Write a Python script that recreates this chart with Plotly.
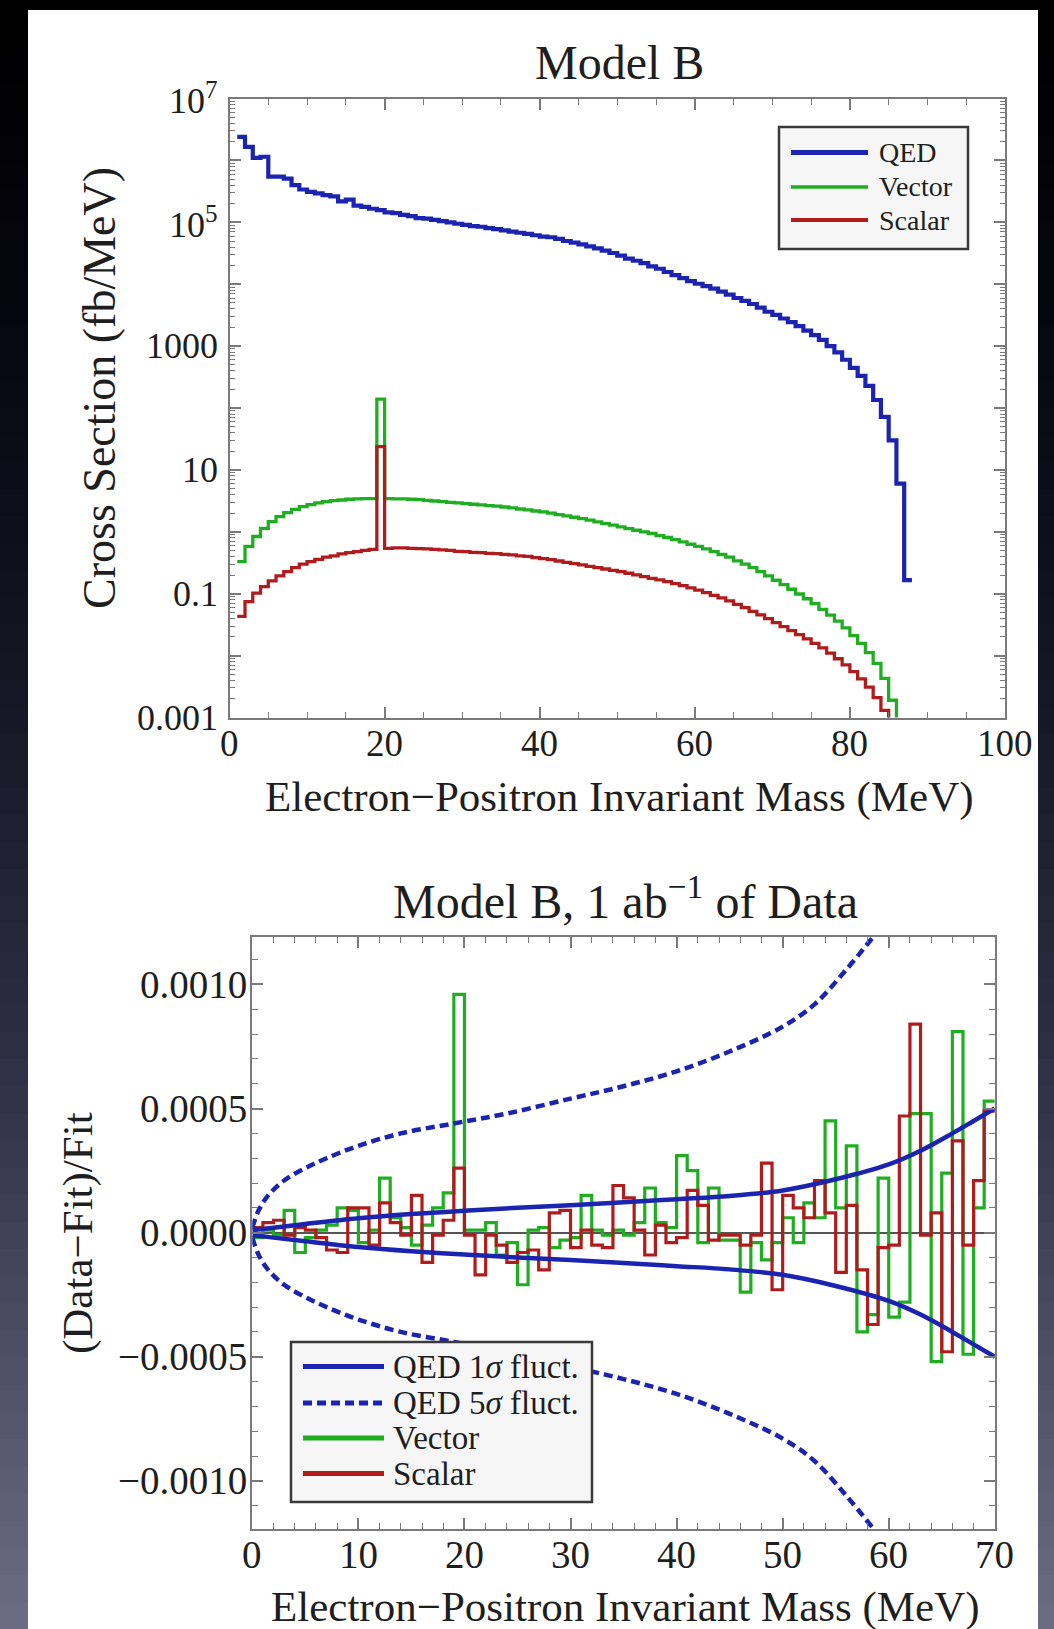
import math
import plotly.graph_objects as go

W, H = 1054, 1629

# ---------------- data ----------------
# Top panel: cross section (fb/MeV), 1 MeV bins, first bin starts at 1 MeV
top_first_edge = 1
qed_xsec = [2.4e6, 1.66e6, 1.10e6, 1.15e6, 5.5e5, 5.5e5, 5.1e5, 4.0e5, 3.4e5, 3.1e5,
            2.95e5, 2.75e5, 2.63e5, 2.19e5, 2.34e5, 1.86e5, 1.78e5, 1.66e5, 1.58e5, 1.45e5,
            1.41e5, 1.32e5, 1.26e5, 1.17e5, 1.15e5, 1.10e5, 1.05e5, 1.00e5, 9.5e4, 9.1e4,
            8.7e4, 8.5e4, 8.1e4, 7.8e4, 7.4e4, 7.1e4, 6.8e4, 6.5e4, 6.2e4, 5.9e4,
            5.75e4, 5.4e4, 5.0e4, 4.7e4, 4.4e4, 4.1e4, 3.8e4, 3.5e4, 3.2e4, 2.9e4,
            2.6e4, 2.4e4, 2.2e4, 1.95e4, 1.78e4, 1.58e4, 1.41e4, 1.26e4, 1.12e4, 1.02e4,
            9.3e3, 8.5e3, 7.6e3, 6.8e3, 6.0e3, 5.4e3, 4.8e3, 4.2e3, 3.6e3, 3.2e3,
            2.8e3, 2.45e3, 2.1e3, 1.78e3, 1.51e3, 1.26e3, 1.0e3, 794, 603, 447,
            331, 229, 135, 72, 30, 6.0, 0.166]
vector_xsec = [0.33, 0.58, 0.84, 1.14, 1.46, 1.76, 2.04, 2.31, 2.55, 2.75,
               2.93, 3.08, 3.19, 3.27, 3.36, 3.40, 3.44, 3.44, 139.0, 3.44,
               3.40, 3.40, 3.36, 3.31, 3.23, 3.15, 3.08, 3.00, 2.93, 2.86,
               2.79, 2.72, 2.65, 2.60, 2.52, 2.43, 2.34, 2.26, 2.17, 2.10,
               2.00, 1.90, 1.81, 1.72, 1.64, 1.54, 1.45, 1.36, 1.28, 1.20,
               1.13, 1.06, 1.00, 0.94, 0.87, 0.81, 0.75, 0.69, 0.63, 0.58,
               0.53, 0.48, 0.43, 0.39, 0.34, 0.30, 0.264, 0.228, 0.194, 0.165,
               0.140, 0.118, 0.099, 0.083, 0.069, 0.056, 0.045, 0.036, 0.028, 0.021,
               0.0158, 0.0112, 0.0075, 0.0043, 0.0019, 0.0006]
scalar_xsec = [0.043, 0.0745, 0.102, 0.130, 0.161, 0.194, 0.228, 0.264, 0.30, 0.33,
               0.36, 0.39, 0.41, 0.44, 0.46, 0.48, 0.50, 0.52, 23.8, 0.54,
               0.55, 0.55, 0.54, 0.535, 0.53, 0.52, 0.51, 0.50, 0.485, 0.48,
               0.467, 0.46, 0.45, 0.445, 0.433, 0.423, 0.41, 0.40, 0.383, 0.369,
               0.356, 0.338, 0.322, 0.306, 0.292, 0.277, 0.264, 0.251, 0.239, 0.228,
               0.214, 0.201, 0.189, 0.177, 0.167, 0.157, 0.146, 0.135, 0.124, 0.114,
               0.104, 0.094, 0.0855, 0.0764, 0.0675, 0.0597, 0.052, 0.0454, 0.0396, 0.0341,
               0.0294, 0.0253, 0.0218, 0.0186, 0.0158, 0.0133, 0.011, 0.0089, 0.0071, 0.0055,
               0.0042, 0.0031, 0.0021, 0.0013, 0.0006]

top_x_ticks = [0, 20, 40, 60, 80, 100]
top_y_decades = [1e-3, 1e-2, 1e-1, 1e0, 1e1, 1e2, 1e3, 1e4, 1e5, 1e6, 1e7]
top_y_label_vals = [1e-3, 1e-1, 1e1, 1e3, 1e5, 1e7]
top_y_labels = ["0.001", "0.1", "10", "1000", "10<sup>5</sup>", "10<sup>7</sup>"]

# Bottom panel: (Data-Fit)/Fit, 1 MeV bins from 0 to 70 MeV
res_first_edge = 0
vector_res = [-0.00002, 0.00001, -0.00001, 0.00009, -0.00008, -0.00002, 0.00001, 0.00003, 0.00010, 0.00009,
              -0.00004, 0.00001, 0.00022, 0.00006, 0.00002, -0.00005, 0.00003, 0.00010, 0.00016, 0.00096,
              0.00001, 0.00001, 0.00004, -0.00009, -0.00004, -0.00021, 0.00001, 0.00002, -0.00006, -0.00003,
              -0.00002, 0.00015, 0.00001, -0.00001, 0.00001, -0.00001, 0.00004, 0.00018, 0.00004, 0.00002,
              0.00031, 0.00025, -0.00004, 0.00018, -0.00003, -0.00003, -0.00024, -0.00004, -0.00011, -0.00004,
              0.00006, -0.00004, 0.00012, 0.00006, 0.00045, 0.00010, 0.00035, -0.00040, -0.00033, 0.00022,
              -0.00034, -0.00028, 0.00048, 0.00048, -0.00052, 0.00024, 0.00081, -0.00049, 0.00010, 0.00053]
scalar_res = [0.00002, 0.00004, 0.00005, -0.00001, 0.00002, 0.00001, -0.00002, -0.00007, -0.00008, 0.00010,
              0.00010, -0.00005, 0.00012, 0.00004, -0.00001, 0.00015, -0.00012, -0.00001, 0.00005, 0.00026,
              -0.00001, -0.00017, -0.00001, -0.00005, -0.00012, -0.00008, -0.00007, -0.00015, 0.00008, 0.00009,
              -0.00006, 0.00001, -0.00005, -0.00006, 0.00019, 0.00014, 0.00001, -0.00009, 0.00003, -0.00004,
              -0.00002, 0.00017, 0.00011, -0.00003, -0.00001, -0.00001, -0.00005, -0.00001, 0.00028, -0.00023,
              0.00015, 0.00010, 0.00006, 0.00021, 0.00008, -0.00016, 0.00011, -0.00015, -0.00037, -0.00006,
              -0.00005, 0.00047, 0.00084, -0.00001, 0.00008, -0.00048, 0.00037, -0.00005, 0.00021, 0.00049]

sigma1_mass = [0, 2, 5, 10, 15, 20, 25, 30, 35, 40, 45, 50, 55, 60, 63, 66, 68, 70]
sigma1_upper = [0.00001, 0.00002, 0.000035, 0.000058, 0.000075, 0.000088, 0.000100, 0.000110, 0.000122,
                0.000135, 0.000148, 0.000170, 0.000215, 0.000275, 0.00033, 0.00040, 0.00045, 0.00050]
sigma1_lower = [-0.00001, -0.00002, -0.000035, -0.000058, -0.000075, -0.000088, -0.000100, -0.000110, -0.000122,
                -0.000135, -0.000148, -0.000170, -0.000215, -0.000275, -0.00033, -0.00040, -0.00045, -0.00050]
sigma5_mass = [0, 0.6, 1.5, 3, 5, 7, 10, 14, 19, 24, 30, 35, 40, 45, 50, 53, 56, 58.5]
sigma5_upper = [0.00002, 0.00009, 0.00015, 0.00021, 0.00026, 0.00030, 0.00035, 0.00040, 0.00044,
                0.00048, 0.00054, 0.00059, 0.00065, 0.00073, 0.00083, 0.00092, 0.00106, 0.00119]
sigma5_lower = [-0.00002, -0.00009, -0.00015, -0.00021, -0.00026, -0.00030, -0.00035, -0.00040, -0.00044,
                -0.00048, -0.00054, -0.00059, -0.00065, -0.00073, -0.00083, -0.00092, -0.00106, -0.00119]

bot_x_ticks = [0, 10, 20, 30, 40, 50, 60, 70]
bot_y_ticks = [-0.001, -0.0005, 0.0, 0.0005, 0.001]
bot_y_labels = ["\u22120.0010", "\u22120.0005", "0.0000", "0.0005", "0.0010"]

# ---------------- styling ----------------
BLUE = "#1a24b0"
GREEN = "#1fae22"
RED = "#b01c1c"
FRAME = "#7a7a7a"
TXT = "#1e1e1e"
FONT = "Liberation Serif"


def fx(px):
    return px / W


def fy(py):
    return 1 - py / H


def steps(first_edge, vals):
    x = [first_edge + i for i in range(len(vals) + 1)]
    y = list(vals) + [vals[-1]]
    return x, y


fig = go.Figure()

# top panel traces
for vals, col, wid in [(qed_xsec, BLUE, 4.2), (vector_xsec, GREEN, 3.3), (scalar_xsec, RED, 3.3)]:
    x, y = steps(top_first_edge, vals)
    fig.add_trace(go.Scatter(x=x, y=y, mode="lines", line=dict(color=col, width=wid, shape="hv"),
                             xaxis="x", yaxis="y", showlegend=False, hoverinfo="skip"))

# bottom panel traces
for vals, col in [(vector_res, GREEN), (scalar_res, RED)]:
    x, y = steps(res_first_edge, vals)
    fig.add_trace(go.Scatter(x=x, y=y, mode="lines", line=dict(color=col, width=3.2, shape="hv"),
                             xaxis="x2", yaxis="y2", showlegend=False, hoverinfo="skip"))
for ys in (sigma1_upper, sigma1_lower):
    fig.add_trace(go.Scatter(x=sigma1_mass, y=ys, mode="lines",
                             line=dict(color=BLUE, width=4.5, shape="spline"),
                             xaxis="x2", yaxis="y2", showlegend=False, hoverinfo="skip"))
for ys in (sigma5_upper, sigma5_lower):
    fig.add_trace(go.Scatter(x=sigma5_mass, y=ys, mode="lines",
                             line=dict(color=BLUE, width=4.5, shape="spline", dash="9px,5px"),
                             xaxis="x2", yaxis="y2", showlegend=False, hoverinfo="skip"))

# minor ticks for log axis
log_minor = []
for k in range(-3, 7):
    for m in range(2, 10):
        log_minor.append(m * 10 ** k)

axis_common = dict(showline=True, linecolor=FRAME, linewidth=2, mirror="allticks",
                   ticks="inside", tickcolor=FRAME, tickwidth=1.5, ticklen=11,
                   showgrid=False, zeroline=False, showticklabels=False, automargin=False)

# top panel box (pixels)
T_L, T_R, T_T, T_B = 229.5, 1005, 98.6, 717.5
# bottom panel box (pixels)
B_L, B_R, B_T, B_B = 252.3, 994.8, 936.7, 1528.6

fig.update_layout(
    width=W, height=H, margin=dict(l=0, r=0, t=0, b=0, pad=0, autoexpand=False),
    paper_bgcolor="#000000", plot_bgcolor="white", showlegend=False,
    font=dict(family=FONT, color=TXT),
    xaxis=dict(domain=[fx(T_L), fx(T_R)], range=[0, 100], anchor="y",
               tickmode="array", tickvals=top_x_ticks,
               minor=dict(dtick=5, ticks="inside", ticklen=6, tickcolor=FRAME, tickwidth=1.2),
               **axis_common),
    yaxis=dict(domain=[fy(T_B), fy(T_T)], type="log", range=[-3, 7], anchor="x",
               tickmode="array", tickvals=top_y_decades,
               minor=dict(tickmode="array", tickvals=log_minor, ticks="inside", ticklen=5,
                          tickcolor=FRAME, tickwidth=1.2),
               **axis_common),
    xaxis2=dict(domain=[fx(B_L), fx(B_R)], range=[0, 70], anchor="y2",
                tickmode="array", tickvals=bot_x_ticks,
                minor=dict(dtick=2, ticks="inside", ticklen=6, tickcolor=FRAME, tickwidth=1.2),
                **axis_common),
    yaxis2=dict(domain=[fy(B_B), fy(B_T)], range=[-0.0011925, 0.0011925], anchor="x2",
                tickmode="array", tickvals=bot_y_ticks,
                minor=dict(dtick=0.0001, ticks="inside", ticklen=6, tickcolor=FRAME, tickwidth=1.2),
                **axis_common),
)
fig.layout.yaxis2.zeroline = True
fig.layout.yaxis2.zerolinecolor = "#555555"
fig.layout.yaxis2.zerolinewidth = 1.5

shapes = []
# background gradient
stops = [(0, (0, 0, 0)), (300, (6, 6, 14)), (700, (22, 22, 38)), (1100, (50, 50, 72)), (1629, (108, 108, 134))]
nb = 60
for i in range(nb):
    y0 = H * i / nb
    y1 = H * (i + 1) / nb
    yc = (y0 + y1) / 2
    for j in range(len(stops) - 1):
        if stops[j][0] <= yc <= stops[j + 1][0]:
            t = (yc - stops[j][0]) / (stops[j + 1][0] - stops[j][0])
            c = [round(stops[j][1][k] + t * (stops[j + 1][1][k] - stops[j][1][k])) for k in range(3)]
            break
    shapes.append(dict(type="rect", xref="paper", yref="paper", x0=0, x1=1, y0=fy(y1) - 0.001, y1=fy(y0),
                       fillcolor=f"rgb({c[0]},{c[1]},{c[2]})", line=dict(width=0), layer="below"))
# white panel
shapes.append(dict(type="rect", xref="paper", yref="paper", x0=fx(28), x1=fx(1038), y0=0, y1=fy(10),
                   fillcolor="#ffffff", line=dict(width=0), layer="below"))

annotations = []

# tick labels
for v in top_x_ticks:
    annotations.append(dict(text=str(v), xref="x", yref="paper", x=v, y=fy(743.5), xanchor="center",
                            yanchor="middle", showarrow=False, font=dict(size=37, family=FONT, color=TXT)))
for v, lab in zip(top_y_label_vals, top_y_labels):
    annotations.append(dict(text=lab, xref="paper", yref="y", x=fx(220), y=math.log10(v), xanchor="right",
                            yanchor="middle", showarrow=False, font=dict(size=36, family=FONT, color=TXT)))
for v in bot_x_ticks:
    annotations.append(dict(text=str(v), xref="x2", yref="paper", x=v, y=fy(1554.5), xanchor="center",
                            yanchor="middle", showarrow=False, font=dict(size=39, family=FONT, color=TXT)))
for v, lab in zip(bot_y_ticks, bot_y_labels):
    annotations.append(dict(text=lab, xref="paper", yref="y2", x=fx(249), y=v, xanchor="right",
                            yanchor="middle", showarrow=False, font=dict(size=39, family=FONT, color=TXT)))

# top legend
shapes.append(dict(type="rect", xref="paper", yref="paper", x0=fx(779), x1=fx(968), y0=fy(249), y1=fy(127),
                   fillcolor="#f6f6f6", line=dict(color="#3a3a3a", width=2.5)))
top_leg = [("QED", BLUE, 5, 152.6), ("Vector", GREEN, 3.5, 186.9), ("Scalar", RED, 4, 220.1)]
for name, col, wid, yy in top_leg:
    shapes.append(dict(type="line", xref="paper", yref="paper", x0=fx(791), x1=fx(868), y0=fy(yy), y1=fy(yy),
                       line=dict(color=col, width=wid)))
    annotations.append(dict(text=name, xref="paper", yref="paper", x=fx(877), y=fy(yy), xanchor="left",
                            yanchor="middle", showarrow=False, font=dict(size=28, family=FONT, color=TXT)))

# bottom legend
shapes.append(dict(type="rect", xref="paper", yref="paper", x0=fx(291), x1=fx(592), y0=fy(1502), y1=fy(1342),
                   fillcolor="#f6f6f6", line=dict(color="#3a3a3a", width=2.5)))
bot_leg = [("QED 1<i>\u03c3</i> fluct.", BLUE, None, 1366.5), ("QED 5<i>\u03c3</i> fluct.", BLUE, "9px,5px", 1403),
           ("Vector", GREEN, None, 1438), ("Scalar", RED, None, 1473.5)]
for name, col, dash, yy in bot_leg:
    ln = dict(color=col, width=5)
    if dash:
        ln["dash"] = dash
    shapes.append(dict(type="line", xref="paper", yref="paper", x0=fx(303), x1=fx(384), y0=fy(yy), y1=fy(yy),
                       line=ln))
    annotations.append(dict(text=name, xref="paper", yref="paper", x=fx(391), y=fy(yy), xanchor="left",
                            yanchor="middle", showarrow=False, font=dict(size=33, family=FONT, color=TXT)))

# titles and axis labels
texts = [
    ("Model B", 619, 62, 48, 0),
    ("Electron\u2212Positron Invariant Mass (MeV)", 619, 797, 43, 0),
    ("Cross Section (fb/MeV)", 99, 388, 46, -90),
    ("Model B, 1 ab<sup>\u22121</sup> of Data", 625, 898, 48, 0),
    ("Electron\u2212Positron Invariant Mass (MeV)", 625, 1607, 43, 0),
    ("(Data\u2212Fit)/Fit", 78, 1233, 43, -90),
]
for t, x, y, s, ang in texts:
    annotations.append(dict(text=t, xref="paper", yref="paper", x=fx(x), y=fy(y), xanchor="center",
                            yanchor="middle", showarrow=False, textangle=ang,
                            font=dict(size=s, family=FONT, color=TXT)))

fig.update_layout(shapes=shapes, annotations=annotations)
fig.write_html("out.html")
